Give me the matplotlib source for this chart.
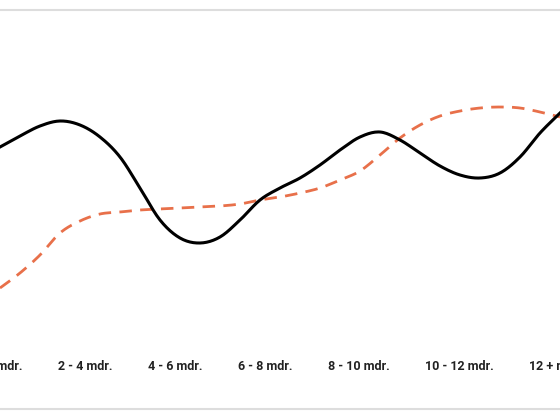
import numpy as np
import matplotlib
matplotlib.use("Agg")
import matplotlib.pyplot as plt
from matplotlib.lines import Line2D

# x labels (months in Danish "mdr.")
labels = ["0 - 2 mdr.", "2 - 4 mdr.", "4 - 6 mdr.", "6 - 8 mdr.",
          "8 - 10 mdr.", "10 - 12 mdr.", "12 + mdr."]

# curve readings, sampled along the x axis
x_pos = np.arange(0, 561, 20)
black_vals = [273, 284, 294, 299, 295, 283, 263, 232, 200, 182, 177, 183, 200, 220, 232,
              242, 255, 270, 283, 288, 280, 267, 254, 245, 242, 247, 263, 287, 307]
orange_vals = [132, 147, 165, 187, 199, 206, 208, 210, 211, 212, 213, 214, 216, 220, 223,
               227, 232, 240, 249, 265, 282, 295, 304, 309, 312, 313, 312, 308, 303]


def smooth(x, y, n=12):
    # catmull-rom through the points
    x = np.asarray(x, float)
    y = np.asarray(y, float)
    px = np.concatenate([[2 * x[0] - x[1]], x, [2 * x[-1] - x[-2]]])
    py = np.concatenate([[2 * y[0] - y[1]], y, [2 * y[-1] - y[-2]]])
    t = np.linspace(0, 1, n, endpoint=False)
    xs, ys = [], []
    for i in range(1, len(px) - 2):
        for p, out in ((px, xs), (py, ys)):
            p0, p1, p2, p3 = p[i - 1], p[i], p[i + 1], p[i + 2]
            out.append(0.5 * ((2 * p1) + (-p0 + p2) * t
                              + (2 * p0 - 5 * p1 + 4 * p2 - p3) * t ** 2
                              + (-p0 + 3 * p1 - 3 * p2 + p3) * t ** 3))
    xs.append([x[-1]])
    ys.append([y[-1]])
    return np.concatenate(xs), np.concatenate(ys)


fig = plt.figure(figsize=(5.6, 4.2), dpi=100)
ax = fig.add_axes([0, 0, 1, 1])
ax.set_xlim(0, 560)
ax.set_ylim(0, 420)
ax.axis("off")

bx, by = smooth(x_pos, black_vals)
ox, oy = smooth(x_pos, orange_vals)
ax.plot(ox, oy, color="#e8704a", lw=2.0, dashes=(4.5, 3), solid_capstyle="butt")
ax.plot(bx, by, color="#000000", lw=2.2, solid_joinstyle="round")

# thin grey frame lines top / bottom
for yy in (1 - 10 / 420, 1 - 409 / 420):
    fig.add_artist(Line2D([0, 1], [yy, yy], color="#dddddd", lw=1.5,
                          transform=fig.transFigure))

# labels laid out left to right with a fixed gap (like a flex row)
renderer = fig.canvas.get_renderer()
gap = 35.5
right = 22.0
for i, lab in enumerate(labels):
    if i == 0:
        t = fig.text(right / 560, 1 - 366 / 420, lab, ha="right", va="center",
                     fontsize=9, fontweight="bold", family="Roboto", color="#222222")
    else:
        t = fig.text((right + gap) / 560, 1 - 366 / 420, lab, ha="left", va="center",
                     fontsize=9, fontweight="bold", family="Roboto", color="#222222")
    bb = t.get_window_extent(renderer)
    right = bb.x1

fig.savefig("out.png", dpi=100, facecolor="white")
